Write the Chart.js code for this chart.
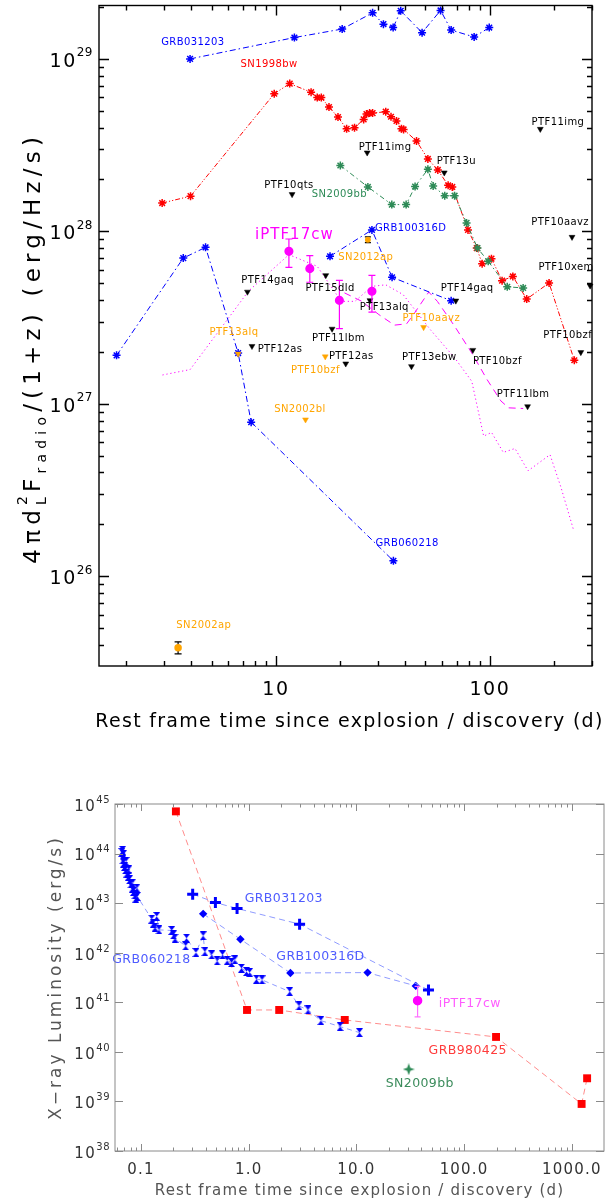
<!DOCTYPE html>
<html lang="en">
<head>
<meta charset="UTF-8">
<title>Radio and X-ray light curves</title>
<style>
  body { margin: 0; padding: 0; background: #fff; }
  #wrap { position: relative; width: 615px; height: 1204px; }
  canvas { position: absolute; left: 0; }
  #radio { top: 0; }
  #xray { top: 760px; }
</style>
</head>
<body>
<div id="wrap">
  <canvas id="radio" width="615" height="760"></canvas>
  <canvas id="xray" width="615" height="444"></canvas>
</div>
<script src="https://cdn.jsdelivr.net/npm/chart.js"></script>
<script>
// ---------- radio panel (days, erg/Hz/s) ----------
const grb031203Day = [3.97, 12.2, 20.4, 28.3, 31.8, 35.3, 38.3, 48.2, 58.8, 65.9, 84.4, 99.3];
const grb031203Lum = [1.00e29, 1.33e29, 1.49e29, 1.85e29, 1.59e29, 1.52e29, 1.90e29, 1.42e29, 1.91e29, 1.47e29, 1.34e29, 1.52e29];

const sn1998bwDay = [2.94, 3.99, 9.82, 11.6, 14.6, 15.6, 16.3, 17.7, 19.5, 21.4, 23.3, 25.7, 26.5, 27.4, 28.3, 32.6, 34.5, 36.6, 38.6, 39.5,
  45.4, 51.3, 57.1, 63.8, 66.7, 79.0, 86.8, 92.0, 101.7, 114, 128, 148.6, 189, 248];
const sn1998bwLum = [1.46e28, 1.60e28, 6.28e28, 7.19e28, 6.41e28, 5.97e28, 5.97e28, 5.26e28, 4.60e28, 3.93e28, 3.99e28, 4.46e28, 4.79e28, 4.85e28, 4.85e28, 4.94e28, 4.62e28, 4.37e28, 3.94e28, 3.90e28,
  3.34e28, 2.63e28, 2.27e28, 1.85e28, 1.81e28, 1.02e28, 8.0e27, 6.5e27, 6.95e27, 5.18e27, 5.48e27, 4.05e27, 5.02e27, 1.79e27];

const sn2009bbDay = [20.0, 26.9, 34.8, 40.6, 44.7, 51.3, 54.3, 61.5, 68.4, 77.8, 87.5, 98.2, 120.5, 143];
const sn2009bbLum = [2.41e28, 1.81e28, 1.43e28, 1.43e28, 1.82e28, 2.29e28, 1.83e28, 1.61e28, 1.61e28, 1.12e28, 8.0e27, 6.7e27, 4.77e27, 4.7e27];

const grb100316dDay = [17.9, 28.1, 34.9, 65.9];
const grb100316dLum = [7.17e27, 1.02e28, 5.42e27, 3.96e27];

const grb060218Day = [1.80, 3.69, 4.69, 6.66, 7.66, 35.4];
const grb060218Lum = [1.91e27, 7.0e27, 8.08e27, 1.97e27, 7.83e26, 1.23e26];

const iptf17cwDay = [11.5, 14.4, 19.8, 28.1];
const iptf17cwLum = [7.66e27, 6.08e27, 3.98e27, 4.50e27];
const iptf17cwLo = [6.19e27, 5.07e27, 2.73e27, 3.40e27];
const iptf17cwHi = [9.03e27, 7.23e27, 5.20e27, 5.56e27];

const dottedDay = [2.95, 3.97, 5.54, 7.44, 11.5, 15.6, 20.2, 23.4, 28.1, 32.6, 39.3, 52.7, 68.4, 82.3, 93.5, 101.8, 115.5, 131, 150.7, 191, 215, 246.5];
const dottedLum = [1.47e27, 1.58e27, 2.75e27, 4.5e27, 7.33e27, 6.27e27, 3.93e27, 3.93e27, 4.8e27, 4.9e27, 4.3e27, 2.69e27, 1.85e27, 1.35e27, 6.5e26, 6.83e26, 5.23e26, 5.51e26, 4.09e26, 5.07e26, 3.27e26, 1.84e26];

const dashedDay = [20.9, 25.2, 30.3, 35.8, 40.8, 43.9, 51.8, 56.8, 68.4, 82.3, 97.1, 112.5, 122.4, 143];
const dashedLum = [4.4e27, 3.93e27, 3.29e27, 2.86e27, 2.91e27, 3.29e27, 4.45e27, 3.93e27, 2.82e27, 1.97e27, 1.38e27, 1.04e27, 9.48e26, 9.4e26];

const limitBlackDay = [172, 26.7, 61.2, 11.9, 242, 294, 7.36, 17.1, 27.5, 69.3, 18.3, 7.73, 21.2, 43.0, 83.2, 266, 150];
const limitBlackLum = [3.92e28, 2.86e28, 2.19e28, 1.64e28, 9.27e27, 4.84e27, 4.46e27, 5.56e27, 3.98e27, 3.96e27, 2.72e27, 2.16e27, 1.71e27, 1.65e27, 2.05e27, 1.99e27, 9.66e26];
const limitOrangeDay = [6.66, 17.0, 49.0, 13.75];
const limitOrangeLum = [1.95e27, 1.88e27, 2.78e27, 8.1e26];

const sn2012apDay = [26.9];
const sn2012apLum = [8.95e27];
const sn2012apLo = [8.6e27];
const sn2012apHi = [9.3e27];
const sn2002apDay = [3.49];
const sn2002apLum = [3.85e25];
const sn2002apLo = [3.55e25];
const sn2002apHi = [4.17e25];

const radioNoteText = ['GRB031203', 'SN1998bw', 'PTF11img', 'PTF11img', 'PTF13u', 'PTF10qts', 'SN2009bb', 'PTF10aavz',
  'GRB100316D', 'iPTF17cw', 'SN2012ap', 'PTF14gaq', 'PTF15dld', 'PTF14gaq', 'PTF10xem', 'PTF13alq', 'PTF10aavz', 'PTF13alq',
  'PTF11lbm', 'PTF10bzf', 'PTF12as', 'PTF12as', 'PTF13ebw', 'PTF10bzf', 'PTF10bzf', 'PTF11lbm', 'SN2002bl', 'GRB060218', 'SN2002ap'];
const radioNoteDay = [4.09, 9.29, 208, 32.4, 69.7, 11.5, 19.8, 213,
  42.6, 12.2, 26.3, 9.15, 17.9, 78.3, 227, 32.1, 53.2, 6.37,
  19.6, 231, 10.45, 22.5, 52.1, 108.4, 15.3, 143, 12.95, 41.0, 4.6];
const radioNoteLum = [1.24e29, 9.27e28, 4.3e28, 3.05e28, 2.56e28, 1.85e28, 1.64e28, 1.13e28,
  1.04e28, 9.57e27, 7.06e27, 5.18e27, 4.66e27, 4.66e27, 6.19e27, 3.63e27, 3.12e27, 2.6e27,
  2.39e27, 2.5e27, 2.07e27, 1.88e27, 1.87e27, 1.77e27, 1.56e27, 1.14e27, 9.27e26, 1.56e26, 5.18e25];
const radioNoteTone = ['blue', 'red', 'black', 'black', 'black', 'black', 'green', 'black',
  'blue', 'magentaBig', 'orange', 'black', 'black', 'black', 'black', 'black', 'orange', 'orange',
  'black', 'black', 'black', 'black', 'black', 'black', 'orange', 'black', 'orange', 'blue', 'orange'];

const radioXTicks = [10, 100];
const radioYExp = [26, 27, 28, 29];

// ---------- X-ray panel (days, erg/s) ----------
const xGrb060218Day = [0.0664, 0.0675, 0.0679, 0.0687, 0.0687, 0.0702, 0.0718, 0.0728, 0.0739, 0.0760, 0.0771, 0.0782, 0.0805, 0.0828, 0.0840, 0.0851, 0.0877, 0.0895, 0.0918, 0.0925,
  0.126, 0.130, 0.135, 0.140, 0.147, 0.193, 0.200, 0.207, 0.260, 0.265, 0.324, 0.378, 0.392, 0.453, 0.51, 0.571, 0.631, 0.693, 0.743, 0.857, 0.955, 1.02, 1.18, 1.33,
  2.40, 2.93, 3.55, 4.68, 7.06, 10.7];
const xGrb060218Lum = [1.05e44, 1.16e44, 7.5e43, 9.5e43, 6.43e43, 5.5e43, 4.71e43, 6.9e43, 4.04e43, 3.45e43, 4.7e43, 2.96e43, 2.45e43, 2.0e43, 2.54e43, 1.72e43, 1.47e43, 1.26e43, 2.01e43, 1.36e43,
  4.75e42, 3.94e42, 3.27e42, 5.38e42, 2.89e42, 2.81e42, 2.29e42, 1.96e42, 1.37e42, 1.96e42, 1.01e42, 2.19e42, 1.05e42, 9.04e41, 6.84e41, 9.04e41, 6.93e41, 6.32e41, 7.16e41, 4.86e41, 4.17e41, 3.98e41, 2.92e41, 2.83e41,
  1.64e41, 8.43e40, 7.0e40, 4.27e40, 3.23e40, 2.44e40];

const xGrb031203Day = [0.302, 0.491, 0.78, 2.97, 46.7];
const xGrb031203Lum = [1.52e43, 1.03e43, 7.8e42, 3.77e42, 1.77e41];
const xGrb100316dDay = [0.378, 0.838, 2.44, 12.7, 35.6];
const xGrb100316dLum = [6.08e42, 1.87e42, 3.9e41, 3.97e41, 2.14e41];
const xGrb980425Day = [0.211, 0.965, 1.92, 7.8, 198, 1233, 1387];
const xGrb980425Lum = [7.1e44, 7.0e40, 7.0e40, 4.4e40, 2.0e40, 8.9e38, 2.93e39];
const xIptf17cwDay = [37];
const xIptf17cwLum = [1.08e41];
const xIptf17cwLo = [5.1e40];
const xIptf17cwHi = [2.1e41];
const xSn2009bbDay = [30.6];
const xSn2009bbLum = [4.45e39];

const xrayNoteText = ['GRB031203', 'GRB100316D', 'GRB060218', 'iPTF17cw', 'GRB980425', 'SN2009bb'];
const xrayNoteDay = [2.12, 4.64, 0.125, 113, 108, 38.8];
const xrayNoteLum = [1.2e43, 8.3e41, 7.2e41, 9.5e40, 1.06e40, 2.3e39];
const xrayNoteTone = ['blueSoft', 'blueSoft', 'blueSoft', 'magentaSoft', 'redSoft', 'greenSoft'];

const xrayXTicks = [0.1, 1, 10, 100, 1000];
const xrayXTickText = ['0.1', '1.0', '10.0', '100.0', '1000.0'];
const xrayYExp = [38, 39, 40, 41, 42, 43, 44, 45];

// ---------- helpers ----------
const FONT = '"DejaVu Sans", Verdana, sans-serif';
const tones = {
  blue: '#0000ff', red: '#ff0000', green: '#2e8b57', black: '#000000', orange: '#ffa500', magenta: '#ff00ff',
  magentaBig: '#ff00ff', blueSoft: '#4f5cff', magentaSoft: '#ff5cff', redSoft: '#ff3c3c', greenSoft: '#3c8c5c'
};

function setFont(ctx, size, spacing) {
  ctx.font = size + 'px ' + FONT;
  ctx.letterSpacing = (spacing || 0) + 'px';
}

function pts(xs, ys) {
  return xs.map((x, i) => ({ x: x, y: ys[i] }));
}

function logSteps(min, max) {
  const out = [];
  for (let d = Math.floor(Math.log10(min)); d <= Math.ceil(Math.log10(max)); d++) {
    for (let m = 1; m < 10; m++) {
      const v = m * Math.pow(10, d);
      if (v >= min * 0.999 && v <= max * 1.001) out.push({ v: v, major: m === 1 });
    }
  }
  return out;
}

function drawPow(ctx, exp, x, y, size, supSize, color) {
  // right aligned "10^exp", vertically centred on y
  setFont(ctx, size, 1.5);
  const w1 = ctx.measureText('10').width;
  setFont(ctx, supSize, 0.5);
  const w2 = ctx.measureText(String(exp)).width;
  const x0 = x - w1 - w2;
  ctx.fillStyle = color;
  ctx.textAlign = 'left';
  ctx.textBaseline = 'middle';
  setFont(ctx, size, 1.5);
  ctx.fillText('10', x0, y);
  setFont(ctx, supSize, 0.5);
  ctx.fillText(String(exp), x0 + w1, y - size * 0.45);
}

function makeHourglass(color) {
  const c = document.createElement('canvas');
  c.width = 7; c.height = 9;
  const g = c.getContext('2d');
  g.fillStyle = color;
  g.beginPath(); g.moveTo(0, 0); g.lineTo(7, 0); g.lineTo(3.5, 4.5); g.closePath(); g.fill();
  g.beginPath(); g.moveTo(0, 9); g.lineTo(7, 9); g.lineTo(3.5, 4.5); g.closePath(); g.fill();
  return c;
}

function makeStar4(color) {
  const c = document.createElement('canvas');
  c.width = 12; c.height = 12;
  const g = c.getContext('2d');
  g.fillStyle = color;
  g.beginPath();
  g.moveTo(6, 0); g.lineTo(7.6, 4.4); g.lineTo(12, 6); g.lineTo(7.6, 7.6);
  g.lineTo(6, 12); g.lineTo(4.4, 7.6); g.lineTo(0, 6); g.lineTo(4.4, 4.4);
  g.closePath(); g.fill();
  return c;
}

// frame and inward ticks on all four sides
const framePlugin = {
  id: 'frame',
  afterDraw(chart, args, o) {
    const ctx = chart.ctx, a = chart.chartArea, xs = chart.scales.x, ys = chart.scales.y;
    ctx.save();
    ctx.strokeStyle = o.color;
    ctx.lineWidth = o.width;
    ctx.beginPath();
    logSteps(xs.min, xs.max).forEach(t => {
      const len = t.major ? o.xMajor : o.xMinor;
      if (!len) return;
      const p = Math.round(xs.getPixelForValue(t.v)) + 0.5;
      ctx.moveTo(p, a.bottom); ctx.lineTo(p, a.bottom - len);
      ctx.moveTo(p, a.top); ctx.lineTo(p, a.top + len);
    });
    logSteps(ys.min, ys.max).forEach(t => {
      const len = t.major ? o.yMajor : o.yMinor;
      if (!len) return;
      const p = Math.round(ys.getPixelForValue(t.v)) + 0.5;
      ctx.moveTo(a.left, p); ctx.lineTo(a.left + len, p);
      ctx.moveTo(a.right, p); ctx.lineTo(a.right - len, p);
    });
    ctx.stroke();
    ctx.strokeRect(a.left, a.top, a.right - a.left, a.bottom - a.top);
    ctx.restore();
  }
};

// vertical error bars with caps, drawn under each dataset's markers
const errorPlugin = {
  id: 'errbars',
  beforeDatasetDraw(chart, args) {
    const ds = chart.data.datasets[args.index];
    if (!ds.errLo) return;
    const ctx = chart.ctx, xs = chart.scales.x, ys = chart.scales.y;
    ctx.save();
    ctx.strokeStyle = ds.errColor;
    ctx.lineWidth = 1.2;
    ctx.beginPath();
    ds.data.forEach((p, i) => {
      const x = xs.getPixelForValue(p.x);
      const y1 = ys.getPixelForValue(ds.errLo[i]);
      const y2 = ys.getPixelForValue(ds.errHi[i]);
      ctx.moveTo(x, y1); ctx.lineTo(x, y2);
      ctx.moveTo(x - ds.capW, y1); ctx.lineTo(x + ds.capW, y1);
      ctx.moveTo(x - ds.capW, y2); ctx.lineTo(x + ds.capW, y2);
    });
    ctx.stroke();
    ctx.restore();
  }
};

function notesPlugin(id, texts, days, lums, toneKeys, size, bigSize) {
  return {
    id: id,
    afterDatasetsDraw(chart) {
      const ctx = chart.ctx, xs = chart.scales.x, ys = chart.scales.y;
      ctx.save();
      ctx.textAlign = 'center';
      ctx.textBaseline = 'middle';
      texts.forEach((t, i) => {
        const big = toneKeys[i] === 'magentaBig';
        setFont(ctx, big ? bigSize : size, big ? 1 : 0.4);
        ctx.fillStyle = tones[toneKeys[i]];
        ctx.fillText(t, xs.getPixelForValue(days[i]), ys.getPixelForValue(lums[i]));
      });
      ctx.restore();
    }
  };
}

function series(xs, ys, extra) {
  return Object.assign({
    data: pts(xs, ys), showLine: true, borderWidth: 1, pointRadius: 4,
    pointBorderWidth: 1.5, clip: false, fill: false
  }, extra);
}

// ---------- radio chart ----------
const radioSets = [
  series(iptf17cwDay, iptf17cwLum, { showLine: false, pointStyle: 'circle', pointRadius: 3.8, pointBackgroundColor: tones.magenta,
    pointBorderColor: tones.magenta, errLo: iptf17cwLo, errHi: iptf17cwHi, errColor: tones.magenta, capW: 3.5 }),
  series(sn2012apDay, sn2012apLum, { showLine: false, pointStyle: 'circle', pointRadius: 2.2, pointBackgroundColor: tones.orange,
    pointBorderColor: tones.orange, errLo: sn2012apLo, errHi: sn2012apHi, errColor: '#000', capW: 3 }),
  series(sn2002apDay, sn2002apLum, { showLine: false, pointStyle: 'circle', pointRadius: 3, pointBackgroundColor: tones.orange,
    pointBorderColor: tones.orange, errLo: sn2002apLo, errHi: sn2002apHi, errColor: '#000', capW: 3.5 }),
  series(limitBlackDay, limitBlackLum, { showLine: false, pointStyle: 'triangle', rotation: 180, pointRadius: 3.4,
    pointBackgroundColor: '#000', pointBorderColor: '#000', pointBorderWidth: 0.5 }),
  series(limitOrangeDay, limitOrangeLum, { showLine: false, pointStyle: 'triangle', rotation: 180, pointRadius: 3.4,
    pointBackgroundColor: tones.orange, pointBorderColor: tones.orange, pointBorderWidth: 0.5 }),
  series(grb031203Day, grb031203Lum, { pointStyle: 'star', borderColor: tones.blue, pointBorderColor: tones.blue, borderDash: [6, 3, 1.5, 3] }),
  series(grb100316dDay, grb100316dLum, { pointStyle: 'star', borderColor: tones.blue, pointBorderColor: tones.blue, borderDash: [6, 3, 1.5, 3] }),
  series(grb060218Day, grb060218Lum, { pointStyle: 'star', borderColor: tones.blue, pointBorderColor: tones.blue, borderDash: [6, 3, 1.5, 3] }),
  series(sn2009bbDay, sn2009bbLum, { pointStyle: 'star', borderColor: tones.green, pointBorderColor: tones.green, borderDash: [5, 3, 1.5, 3] }),
  series(sn1998bwDay, sn1998bwLum, { pointStyle: 'star', borderColor: tones.red, pointBorderColor: tones.red, borderDash: [5, 2, 1.2, 2, 1.2, 2] }),
  series(dashedDay, dashedLum, { pointRadius: 0, borderColor: tones.magenta, borderDash: [7, 5] }),
  series(dottedDay, dottedLum, { pointRadius: 0, borderColor: tones.magenta, borderDash: [1.2, 2.8] })
];

const radioText = {
  id: 'radioText',
  afterDraw(chart) {
    const ctx = chart.ctx, a = chart.chartArea, xs = chart.scales.x, ys = chart.scales.y;
    ctx.save();
    radioYExp.forEach(e => drawPow(ctx, e, 93, ys.getPixelForValue(Math.pow(10, e)) + 3, 19, 12, '#000'));
    ctx.fillStyle = '#000';
    ctx.textAlign = 'center';
    ctx.textBaseline = 'middle';
    setFont(ctx, 19, 1.5);
    radioXTicks.forEach(v => ctx.fillText(String(v), xs.getPixelForValue(v), 690));
    setFont(ctx, 19, 1.3);
    ctx.fillText('Rest frame time since explosion / discovery (d)', (a.left + a.right) / 2 + 4, 722);

    // rotated y title with sub/superscripts
    const S = 23, s = 14, sp = 5.2;
    const parts = [
      { t: '4\u03c0d', size: S, dy: 0 },
      { t: '2', size: s, dy: -0.45 * S, keep: true },
      { t: 'L', size: s, dy: 0.35 * S },
      { t: 'F', size: S, dy: 0 },
      { t: 'radio', size: s, dy: 0.35 * S },
      { t: '/(1+z) (erg/Hz/s)', size: S, dy: 0 }
    ];
    let total = 0;
    parts.forEach(p => { setFont(ctx, p.size, sp); p.w = ctx.measureText(p.t).width; if (!p.keep) total += p.w; });
    ctx.translate(34, (a.top + a.bottom) / 2 + 12);
    ctx.rotate(-Math.PI / 2);
    ctx.textAlign = 'left';
    let x = -total / 2;
    parts.forEach(p => {
      setFont(ctx, p.size, sp);
      ctx.fillText(p.t, x, p.dy);
      if (!p.keep) x += p.w;
    });
    ctx.restore();
  }
};

new Chart(document.getElementById('radio'), {
  type: 'scatter',
  data: { datasets: radioSets },
  options: {
    responsive: false,
    animation: false,
    layout: { padding: { left: 99, right: 615 - 592, top: 3, bottom: 760 - 666 } },
    scales: {
      x: { type: 'logarithmic', min: 1.49, max: 300, display: false },
      y: { type: 'logarithmic', min: 3.02e25, max: 2.04e29, display: false }
    },
    plugins: {
      legend: { display: false },
      tooltip: { enabled: false },
      frame: { color: '#000', width: 1.4, xMajor: 10, xMinor: 5, yMajor: 10, yMinor: 5 }
    }
  },
  plugins: [framePlugin, errorPlugin,
    notesPlugin('radioNotes', radioNoteText, radioNoteDay, radioNoteLum, radioNoteTone, 10, 15), radioText]
});

// ---------- X-ray chart ----------
const xraySets = [
  series(xIptf17cwDay, xIptf17cwLum, { showLine: false, pointStyle: 'circle', pointRadius: 4, pointBackgroundColor: tones.magenta,
    pointBorderColor: tones.magenta, errLo: xIptf17cwLo, errHi: xIptf17cwHi, errColor: '#ff70ff', capW: 3 }),
  series(xSn2009bbDay, xSn2009bbLum, { showLine: false, pointStyle: makeStar4('#2e8b57') }),
  series(xGrb031203Day, xGrb031203Lum, { pointStyle: 'cross', pointRadius: 5.5, pointBorderWidth: 3, pointBorderColor: tones.blue,
    borderColor: '#8f9bff', borderDash: [6, 4] }),
  series(xGrb100316dDay, xGrb100316dLum, { pointStyle: 'rectRot', pointRadius: 4.2, pointBorderWidth: 0, pointBackgroundColor: tones.blue,
    pointBorderColor: tones.blue, borderColor: '#8f9bff', borderDash: [6, 4] }),
  series(xGrb060218Day, xGrb060218Lum, { pointStyle: makeHourglass(tones.blue), borderColor: '#8f9bff', borderDash: [5, 4] }),
  series(xGrb980425Day, xGrb980425Lum, { pointStyle: 'rect', pointRadius: 5.6, pointBorderWidth: 0, pointBackgroundColor: tones.red,
    pointBorderColor: tones.red, borderColor: '#ff8c8c', borderDash: [6, 4] })
];

const xrayText = {
  id: 'xrayText',
  afterDraw(chart) {
    const ctx = chart.ctx, a = chart.chartArea, xs = chart.scales.x, ys = chart.scales.y;
    ctx.save();
    xrayYExp.forEach(e => drawPow(ctx, e, 110, ys.getPixelForValue(Math.pow(10, e)) + 3, 15, 10, '#333'));
    ctx.fillStyle = '#333';
    ctx.textAlign = 'center';
    ctx.textBaseline = 'middle';
    setFont(ctx, 15, 1.2);
    xrayXTicks.forEach((v, i) => ctx.fillText(xrayXTickText[i], xs.getPixelForValue(v), 410));
    ctx.fillStyle = '#555';
    setFont(ctx, 15, 1.2);
    ctx.fillText('Rest frame time since explosion / discovery (d)', (a.left + a.right) / 2, 431);
    setFont(ctx, 17, 3);
    ctx.translate(57, (a.top + a.bottom) / 2);
    ctx.rotate(-Math.PI / 2);
    ctx.fillText('X\u2212ray Luminosity (erg/s)', 0, 0);
    ctx.restore();
  }
};

new Chart(document.getElementById('xray'), {
  type: 'scatter',
  data: { datasets: xraySets },
  options: {
    responsive: false,
    animation: false,
    layout: { padding: { left: 115, right: 615 - 604, top: 44, bottom: 444 - 391 } },
    scales: {
      x: { type: 'logarithmic', min: 0.0574, max: 1990, display: false },
      y: { type: 'logarithmic', min: 1e38, max: 1e45, display: false }
    },
    plugins: {
      legend: { display: false },
      tooltip: { enabled: false },
      frame: { color: '#8a8a8a', width: 1, xMajor: 7, xMinor: 3.5, yMajor: 8, yMinor: 0 }
    }
  },
  plugins: [framePlugin, errorPlugin,
    notesPlugin('xrayNotes', xrayNoteText, xrayNoteDay, xrayNoteLum, xrayNoteTone, 12.5, 12.5), xrayText]
});
</script>
</body>
</html>
